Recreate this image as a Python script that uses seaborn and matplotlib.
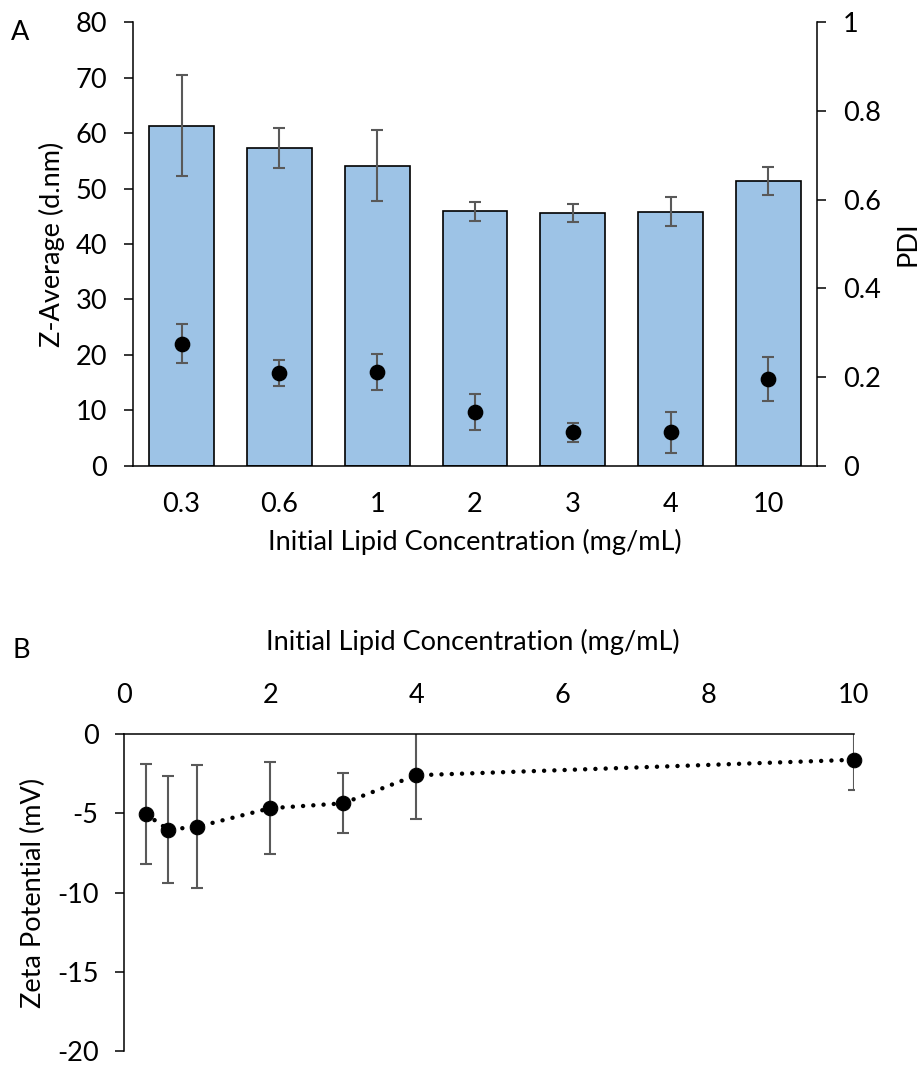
import matplotlib
matplotlib.use("Agg")
import matplotlib.pyplot as plt
import numpy as np
import pandas as pd
import seaborn as sns

# Panel A: particle size and PDI by initial lipid concentration
conc_labels = ["0.3", "0.6", "1", "2", "3", "4", "10"]
z_avg = [61.3, 57.3, 54.1, 45.9, 45.6, 45.8, 51.4]
z_sd = [9.1, 3.6, 6.4, 1.7, 1.6, 2.6, 2.5]
pdi = [0.275, 0.209, 0.212, 0.121, 0.075, 0.075, 0.196]
pdi_sd = [0.044, 0.030, 0.041, 0.041, 0.021, 0.046, 0.049]

# Panel B: zeta potential vs concentration
conc = [0.3, 0.6, 1, 2, 3, 4, 10]
zeta = [-5.05, -6.02, -5.84, -4.67, -4.36, -2.59, -1.61]
zeta_sd = [3.15, 3.37, 3.88, 2.90, 1.90, 2.77, 1.94]

sns.set_theme(style="white")
plt.rcParams["font.family"] = ["Lato", "DejaVu Sans"]
plt.rcParams["axes.unicode_minus"] = False

FS = 19.5
BAR_COLOR = "#9DC3E6"
ERR_COLOR = "#595959"
SPINE_W = 1.1

fig = plt.figure(figsize=(9.22, 10.66), dpi=100)

# ---------------- Panel A ----------------
axA = fig.add_axes([0.1439, 0.5631, 0.7426, 0.4160])
df_a = pd.DataFrame({"conc": conc_labels, "z": z_avg})
sns.barplot(data=df_a, x="conc", y="z", order=conc_labels, color=BAR_COLOR,
            saturation=1, width=0.664, edgecolor="black", linewidth=1.2,
            errorbar=None, ax=axA)
axA.errorbar(np.arange(len(conc_labels)), z_avg, yerr=z_sd, fmt="none",
             ecolor=ERR_COLOR, elinewidth=1.5, capsize=4.3, capthick=1.5)
axA.set_xlim(-0.5, 6.5)
axA.set_ylim(0, 80)
axA.set_yticks(np.arange(0, 81, 10))
axA.set_yticklabels([str(v) for v in range(0, 81, 10)])
for side in ["top", "right"]:
    axA.spines[side].set_visible(False)
for side in ["left", "bottom"]:
    axA.spines[side].set_color("black")
    axA.spines[side].set_linewidth(SPINE_W)
axA.tick_params(axis="y", left=True, direction="out", length=6.5, width=SPINE_W,
                color="black", pad=12, labelsize=FS, labelcolor="black")
axA.tick_params(axis="x", length=0, pad=19, labelsize=FS, labelcolor="black")
axA.set_xlabel("Initial Lipid Concentration (mg/mL)", fontsize=FS, color="black",
               va="center")
axA.xaxis.set_label_coords(0.5, -0.171)
axA.set_ylabel("Z-Average (d.nm)", fontsize=FS, color="black", va="center")
axA.yaxis.set_label_coords(-0.118, 0.5)

ax2 = axA.twinx()
ax2.errorbar(np.arange(len(conc_labels)), pdi, yerr=pdi_sd, fmt="o", color="black",
             markersize=10.3, ecolor=ERR_COLOR, elinewidth=1.5, capsize=4.3,
             capthick=1.5)
ax2.set_ylim(0, 1)
ax2.set_yticks([0, 0.2, 0.4, 0.6, 0.8, 1.0])
ax2.set_yticklabels(["0", "0.2", "0.4", "0.6", "0.8", "1"])
for side in ["top", "left", "bottom"]:
    ax2.spines[side].set_visible(False)
ax2.spines["right"].set_color("black")
ax2.spines["right"].set_linewidth(SPINE_W)
ax2.tick_params(axis="y", right=True, direction="out", length=6.5, width=SPINE_W,
                color="black", pad=12, labelsize=FS, labelcolor="black")
ax2.set_ylabel("PDI", fontsize=FS, color="black", rotation=90, va="center")
ax2.yaxis.set_label_coords(1.1325, 0.5)

fig.text(20 / 922, 1 - 33 / 1066, "A", fontsize=FS, color="black",
         ha="center", va="center")

# ---------------- Panel B ----------------
axB = fig.add_axes([0.1348, 0.0141, 0.7914, 0.2971])
axB.errorbar(conc, zeta, yerr=zeta_sd, fmt="none", ecolor=ERR_COLOR,
             elinewidth=1.5, capsize=4.3, capthick=1.5)
sns.lineplot(x=conc, y=zeta, ax=axB, color="black", marker="o", markersize=10.5,
             markeredgecolor="black", markerfacecolor="black", linewidth=3.2,
             clip_on=False, zorder=3)
line = axB.get_lines()[-1]
line.set_linestyle((0, (0.01, 2.3)))
line.set_dash_capstyle("round")

axB.set_xlim(0, 10)
axB.set_ylim(-20, 0)
axB.set_xticks(np.arange(0, 11, 2))
axB.set_xticklabels([str(v) for v in range(0, 11, 2)])
axB.set_yticks(np.arange(-20, 1, 5))
axB.set_yticklabels([str(v) for v in range(-20, 1, 5)])
axB.xaxis.tick_top()
axB.xaxis.set_label_position("top")
for side in ["bottom", "right"]:
    axB.spines[side].set_visible(False)
for side in ["top", "left"]:
    axB.spines[side].set_color("black")
    axB.spines[side].set_linewidth(SPINE_W)
axB.tick_params(axis="y", left=True, direction="out", length=6.5, width=SPINE_W,
                color="black", pad=12, labelsize=FS, labelcolor="black")
axB.tick_params(axis="x", top=True, bottom=False, length=0, pad=19, labelsize=FS,
                labelcolor="black")
axB.set_xlabel("Initial Lipid Concentration (mg/mL)", fontsize=FS, color="black",
               va="center")
axB.xaxis.set_label_coords(0.477, 1.2917)
axB.set_ylabel("Zeta Potential (mV)", fontsize=FS, color="black", va="center")
axB.yaxis.set_label_coords(-0.125, 0.5)

fig.text(21 / 922, 1 - 650 / 1066, "B", fontsize=FS, color="black",
         ha="center", va="center")

fig.savefig("out.png", dpi=100, facecolor="white")
